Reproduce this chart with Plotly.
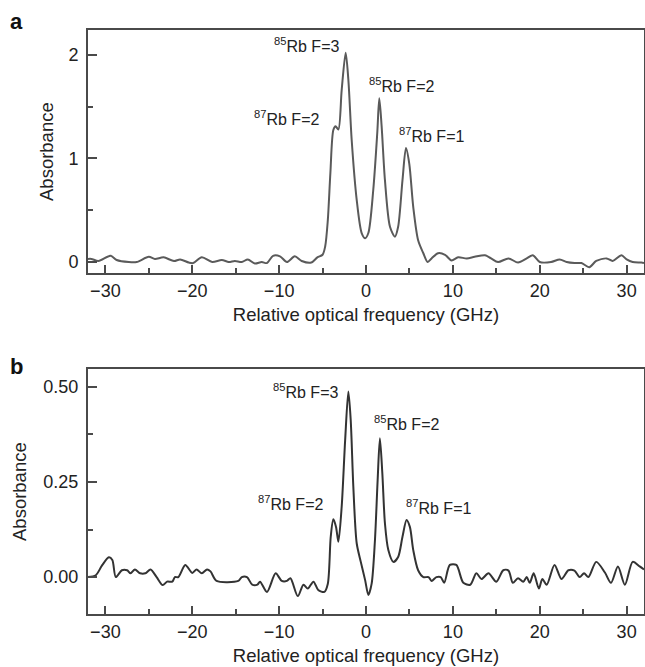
import plotly.graph_objects as go
from plotly.subplots import make_subplots

# Panel a: absorbance vs relative optical frequency (GHz)
freq_a = [-32, -31.6, -30.8, -29.4, -28.7, -27.3, -26.4, -25.0, -24.3, -23.3,
          -22.1, -21.4, -20.4, -19.9, -18.9, -17.7, -16.6, -15.8, -15.1, -14.3,
          -13.6, -12.8, -12.0, -11.4, -10.7, -9.9, -9.1, -8.2, -7.4, -6.3,
          -5.6, -5.0, -4.7, -4.4, -4.1, -3.76, -3.5, -3.18, -2.8, -2.34,
          -2.03, -1.65, -1.07, -0.5, -0.1, 0.27, 0.84, 1.3, 1.53, 1.8,
          2.18, 2.76, 3.33, 3.7, 4.2, 4.6, 4.98, 5.44, 6.0, 6.6,
          7.1, 7.55, 8.3, 9.1, 9.85, 10.6, 11.6, 12.5, 13.7, 14.4,
          15.2, 16.4, 17.5, 18.5, 19.2, 20.0, 21.3, 22.3, 23.1, 24.0,
          24.8, 25.7, 26.5, 27.7, 28.4, 29.4, 30.0, 30.7, 31.7, 32]
abs_a = [0.03, 0.03, 0.01, 0.06, 0.02, 0.0, 0.0, 0.05, 0.03, 0.045,
         0.01, 0.025, -0.005, -0.01, 0.045, 0.0, 0.02, 0.0, 0.01, 0.0,
         0.025, -0.015, 0.0, -0.01, 0.06, 0.055, 0.0, 0.055, 0.01, -0.005,
         0.045, 0.07, 0.15, 0.4, 0.86, 1.275, 1.31, 1.28, 1.66, 2.02,
         1.76, 1.18, 0.6, 0.28, 0.23, 0.28, 0.7, 1.25, 1.58, 1.31,
         0.79, 0.34, 0.245, 0.34, 0.79, 1.10, 0.95, 0.53, 0.21, 0.085,
         0.0, 0.035, 0.085, 0.07, 0.015, 0.045, 0.035, 0.05, 0.065, 0.035,
         0.0, 0.035, -0.005, 0.035, 0.065, 0.0, 0.0, 0.025, 0.0, -0.01,
         -0.01, -0.05, 0.01, 0.035, 0.01, 0.065, 0.025, 0.0, -0.005, -0.01]

# Panel b
freq_b = [-32, -31.1, -30.4, -29.6, -29.2, -28.8, -28.1, -27.5, -27.1, -26.6,
          -26.0, -25.4, -24.8, -24.1, -23.4, -22.9, -22.3, -22.0, -21.6, -20.8,
          -20.0, -19.5, -18.9, -18.3, -17.9, -17.2, -14.7, -14.3, -13.7, -13.1,
          -12.5, -12.2, -11.4, -10.4, -9.7, -9.1, -8.7, -7.85, -7.2, -6.7,
          -6.05, -5.5, -4.8, -4.4, -4.06, -3.76, -3.45, -3.18, -2.8, -2.4,
          -2.03, -1.76, -1.46, -1.07, -0.6, -0.1, 0.27, 0.65, 1.03, 1.34,
          1.6, 1.88, 2.18, 2.57, 3.14, 3.7, 4.2, 4.67, 5.05, 5.44,
          6.0, 6.6, 7.2, 7.55, 8.1, 8.6, 9.0, 9.65, 10.4, 11.2,
          12.0, 12.7, 13.3, 14.1, 15.0, 15.8, 16.4, 16.9, 17.5, 18.1,
          18.5, 18.85, 19.3, 19.9, 20.3, 20.8, 21.7, 22.5, 23.3, 24.0,
          24.6, 25.1, 25.6, 26.5, 27.5, 28.2, 29.0, 29.8, 30.7, 31.5,
          32]
abs_b = [0.0, 0.005, 0.03, 0.052, 0.045, 0.0, 0.018, 0.018, 0.01, 0.02,
         0.01, 0.01, 0.02, 0.0, -0.021, -0.012, -0.012, 0.0, 0.0, 0.032,
         0.011, 0.02, 0.01, 0.02, 0.015, -0.01, -0.01, 0.0, 0.0, -0.02,
         -0.02, -0.012, -0.039, 0.01, -0.01, -0.01, -0.003, -0.05, -0.02, -0.03,
         -0.012, -0.034, -0.039, -0.018, 0.106, 0.152, 0.132, 0.093, 0.185, 0.36,
         0.488, 0.413, 0.238, 0.089, 0.04, -0.008, -0.047, -0.017, 0.097, 0.255,
         0.365, 0.273, 0.141, 0.071, 0.04, 0.053, 0.106, 0.15, 0.132, 0.071,
         0.018, 0.0, 0.0, -0.01, 0.0, 0.0, -0.015, 0.032, 0.032, -0.015,
         -0.02, 0.01, -0.005, 0.01, -0.012, 0.018, 0.017, -0.015, -0.003, -0.012,
         0.0, -0.015, 0.01, -0.03, -0.005, -0.02, 0.032, -0.005, 0.018, 0.017,
         0.0, 0.01, 0.0, 0.04, 0.012, -0.015, 0.028, -0.02, 0.04, 0.028,
         0.02]

# Peak labels (text, x, y) for each panel
labels = ["<sup>85</sup>Rb F=3", "<sup>87</sup>Rb F=2", "<sup>85</sup>Rb F=2", "<sup>87</sup>Rb F=1"]
label_x_a = [-6.9, -9.1, 4.1, 7.5]
label_y_a = [2.10, 1.39, 1.71, 1.23]
label_x_b = [-7.0, -8.7, 4.7, 8.3]
label_y_b = [0.49, 0.195, 0.405, 0.184]

FONT = "Liberation Sans, Arial, Helvetica, sans-serif"
AXCOL = "#4a4a4a"
TXT = "#222222"

# page geometry (body margin is removed, so figure pixels = page pixels)
FW, FH = 645, 667
ML, MR, MT, MB = 88, 1, 30, 53
W = FW - ML - MR
H = FH - MT - MB


def px_x(page_x):
    return (page_x - ML) / W


def px_y(page_y):
    return (FH - MB - page_y) / H


fig = make_subplots(rows=2, cols=1)

fig.add_trace(go.Scatter(x=freq_a, y=abs_a, mode="lines",
                         line=dict(color="#5a5a5a", width=2, shape="spline", smoothing=0.8),
                         showlegend=False), row=1, col=1)
fig.add_trace(go.Scatter(x=freq_b, y=abs_b, mode="lines",
                         line=dict(color="#333333", width=2, shape="spline", smoothing=0.8),
                         showlegend=False), row=2, col=1)

xaxis_common = dict(range=[-32, 32], tickvals=[-30, -20, -10, 0, 10, 20, 30],
                    ticktext=["\u221230", "\u221220", "\u221210", "0", "10", "20", "30"],
                    ticks="inside", ticklen=8, tickwidth=2, tickcolor=AXCOL,
                    minor=dict(tickvals=[-25, -15, -5, 5, 15, 25], ticks="inside",
                               ticklen=5, tickwidth=2, tickcolor=AXCOL),
                    showline=True, linecolor=AXCOL, linewidth=2, mirror=True,
                    showgrid=False, zeroline=False, automargin=False,
                    tickfont=dict(size=18, color=TXT),
                    title=dict(text="Relative optical frequency (GHz)",
                               font=dict(size=18.5, color=TXT), standoff=8))
fig.update_xaxes(**xaxis_common, domain=[0, 1], row=1, col=1)
fig.update_xaxes(**xaxis_common, domain=[0, 1], row=2, col=1)

yaxis_common = dict(ticks="inside", ticklen=9, tickwidth=2, tickcolor=AXCOL,
                    showline=True, linecolor=AXCOL, linewidth=2, mirror=True,
                    showgrid=False, zeroline=False, automargin=False,
                    ticklabelstandoff=4, tickfont=dict(size=18, color=TXT))
fig.update_yaxes(**yaxis_common, range=[-0.106, 2.24], tickvals=[0, 1, 2],
                 domain=[px_y(273), 1.0],
                 minor=dict(tickvals=[0.5, 1.5], ticks="inside", ticklen=5,
                            tickwidth=2, tickcolor=AXCOL),
                 row=1, col=1)
fig.update_yaxes(**yaxis_common, range=[-0.097, 0.547], tickvals=[0, 0.25, 0.5],
                 ticktext=["0.00", "0.25", "0.50"],
                 domain=[0, px_y(369)],
                 minor=dict(tickvals=[0.125, 0.375], ticks="inside", ticklen=5,
                            tickwidth=2, tickcolor=AXCOL),
                 row=2, col=1)

# y axis titles
for cx, cy in [(47, 152), (20, 492)]:
    fig.add_annotation(text="Absorbance", textangle=-90, showarrow=False,
                       font=dict(size=18.5, color=TXT),
                       xref="paper", yref="paper", xanchor="center", yanchor="middle",
                       x=px_x(cx), y=px_y(cy))

for t, x, y in zip(labels, label_x_a, label_y_a):
    fig.add_annotation(x=x, y=y, xref="x", yref="y", text=t, showarrow=False,
                       font=dict(size=16, color=TXT))
for t, x, y in zip(labels, label_x_b, label_y_b):
    fig.add_annotation(x=x, y=y, xref="x2", yref="y2", text=t, showarrow=False,
                       font=dict(size=16, color=TXT))

# panel letters, placed by pixel position
for letter, top in [("a", 7), ("b", 352)]:
    fig.add_annotation(text="<b>%s</b>" % letter, showarrow=False,
                       font=dict(size=22, color="#111"),
                       xref="paper", yref="paper", xanchor="left", yanchor="top",
                       x=px_x(8), y=px_y(top))

fig.update_layout(width=FW, height=FH, margin=dict(l=ML, r=MR, t=MT, b=MB),
                  plot_bgcolor="white", paper_bgcolor="white",
                  font=dict(family=FONT, color=TXT))

fig.write_html("out.html", config={"displayModeBar": False},
               post_script="document.body.style.margin='0';document.body.style.overflow='hidden';")
